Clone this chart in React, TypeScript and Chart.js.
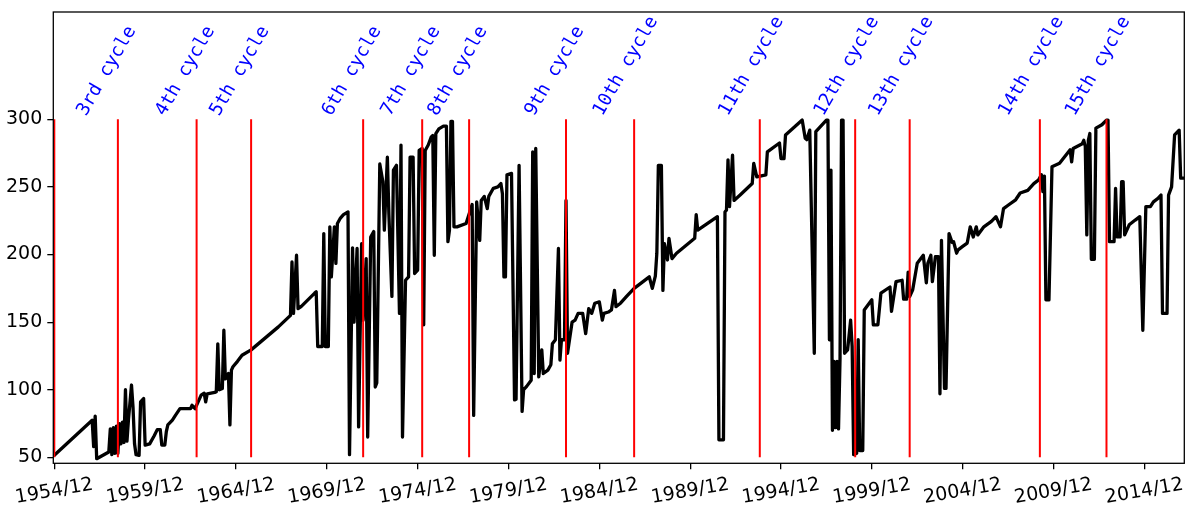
import React, { useEffect, useRef } from "react";
import { Chart, registerables } from "chart.js";

Chart.register(...registerables);

// Month index counted from 1954/12 (index 0) and the value read at that month
const months = [
  0, 25, 26, 27, 28, 36, 37, 38, 39, 40,
  41, 42, 43, 44, 45, 46, 47, 48, 49, 51,
  52, 53, 54, 56, 57, 59, 60, 63, 66, 68,
  70, 71, 73, 74, 75, 78, 80, 83, 90, 91,
  93, 97, 99, 100, 101, 106, 107, 108, 109, 111,
  112, 113, 115, 116, 117, 118,
  121, 124, 130, 148, 156, 157, 158, 160, 161, 163,
  172, 173,
  174, 177, 178, 179, 181, 182, 183, 185, 186, 187,
  189, 191, 194, 195, 197, 198, 200, 201, 203, 204,
  206, 207, 209, 211, 212, 213, 215, 217, 218, 220,
  221, 223, 224, 226, 228, 229, 230, 232, 234, 235,
  237, 238, 240, 241, 243, 244, 245, 247, 249, 250,
  251, 252, 254, 257, 259, 260, 261, 262, 263, 264,
  266, 272, 274, 276, 277, 279, 281, 282, 284, 286,
  287, 290, 293, 295, 296, 297, 298, 299, 302, 304,
  305, 307, 309, 310, 312, 315, 316, 317, 318, 320,
  322, 323, 326, 328, 329, 331, 333, 334, 335, 337,
  338, 339, 342, 344, 346, 349, 351, 353, 355, 357,
  360, 362, 363, 366, 368, 370, 371, 374, 378, 383,
  393, 395, 397, 398, 399, 401, 402, 403, 405, 406,
  408, 411, 423, 424, 425, 438, 439, 442, 443, 444,
  445, 446, 448, 449, 453, 461, 462, 464, 470, 471,
  479, 480, 482, 483, 494, 496, 497, 499, 502, 503,
  510, 511, 512, 513, 514, 515, 516, 517, 518, 519,
  520, 521, 522, 524, 526, 527, 528, 530, 531, 532,
  534, 535, 540, 541, 544, 546, 552, 553, 556, 560,
  561, 563, 564, 565, 567, 570, 574, 576, 577, 579,
  580, 582, 584, 585, 586, 588, 589, 591, 593, 594,
  596, 597, 600, 603, 605, 607, 609, 610, 614, 619,
  622, 625, 627, 630, 635, 638, 643, 647, 650, 652,
  653, 654, 655, 657, 659, 664, 671, 672, 673, 679,
  680, 681, 682, 683, 684, 685, 687, 688, 692, 695,
  696, 697, 700, 701, 702, 704, 705, 706, 707, 710,
  714, 717, 719, 721, 724, 726, 729, 731, 732, 735,
  736, 738, 740, 743, 744, 747,
];

const values = [
  51.5, 77.5, 58, 80.5, 49, 54, 71, 52, 72, 53,
  73, 53, 75, 60, 76, 61, 100, 62, 78, 103.5,
  87, 60, 52, 51.5, 91, 93.5, 59, 60, 66, 70.5,
  70.5, 59, 59, 69, 74, 77.5, 81, 86, 86, 88.5,
  86, 96, 97.5, 91, 97, 98, 98.5, 134, 100, 101,
  144, 108, 112, 74, 114.5, 117,
  121, 125.5, 129.5, 146.5, 155, 194.5, 156.5, 199.5, 160, 161.5,
  171.5, 172.5,
  132, 132, 215.5, 132, 132, 220.5, 183.5, 220.5, 193.5, 223,
  227, 229.5, 231.5, 52, 205, 150, 204.5, 72.5, 208, 151.5,
  197, 65, 213, 217, 102, 105, 267, 254, 218, 272,
  230, 169, 262.5, 266, 156.5, 281, 65, 181, 183.5, 272,
  272, 186, 188.5, 277, 278.5, 148, 277, 281, 287, 288,
  199.5, 289.5, 293, 295, 295, 209.5, 218, 298.5, 298.5, 220.5,
  220.5, 223, 230, 237, 81, 239, 210.5, 240, 243, 234,
  243, 249, 250, 252.5, 245, 183.5, 183.5, 259, 260, 92.5,
  93, 266, 84, 100, 102.5, 107, 276, 112, 278.5, 109.5,
  129.5, 112, 114.5, 118.5, 134, 137, 204.5, 122, 137, 137,
  240, 127, 150, 151.5, 156.5, 156.5, 141.5, 160, 156.5, 164,
  165, 151.5, 156.5, 157.5, 159, 173.5, 161.5, 164, 169, 175,
  183.5, 175, 184, 201, 266, 266, 173.5, 208, 196, 212,
  197, 201, 212, 229.5, 218, 228, 63, 63, 231.5, 233,
  270, 235.5, 273.5, 240, 244, 252.5, 267.5, 257.5, 259, 276,
  282.5, 271, 271, 288.5, 299.5, 286, 285, 292, 127, 291,
  299.5, 299.5, 137, 262.5, 70, 121, 72, 121, 71, 123,
  299.5, 299.5, 127, 129.5, 151.5, 132, 52, 53, 137, 55,
  55, 159, 166.5, 148, 148, 171.5, 176, 158, 180, 181,
  167, 167, 187, 169, 174, 193.5, 199.5, 179, 193.5, 199.5,
  180, 198.5, 198.5, 97, 210.5, 101, 101, 215.5, 209, 209.5,
  201, 203.5, 206, 208.5, 220.5, 213, 220.5, 214.5, 220.5, 224.5,
  228, 220.5, 234, 236.5, 240.5, 245.5, 247.5, 252.5, 255, 259,
  246.5, 258, 166.5, 166.5, 265, 267.5, 277.5, 268.5, 278.5, 282,
  284.5, 280, 214.5, 284.5, 289.5, 196.5, 196.5, 293.5, 296, 299.5,
  299.5, 209.5, 209.5, 249, 213, 213, 254, 254, 214.5, 222,
  225.5, 228, 144, 235.5, 235.5, 239, 241.5, 244, 156.5, 156.5,
  244, 250, 288.5, 292, 256.5, 256.5,
];

// Cycle boundary months (red lines)
const cycleStarts = [0, 42, 94, 130, 204, 243, 274, 338, 383, 466, 529, 565, 651, 695];
const cycleLabels = [
  "3rd cycle", "4th cycle", "5th cycle", "6th cycle", "7th cycle", "8th cycle",
  "9th cycle", "10th cycle", "11th cycle", "12th cycle", "13th cycle",
  "14th cycle", "15th cycle",
];

const xTickMonths = [0, 60, 120, 180, 240, 300, 360, 420, 480, 540, 600, 660, 720];
const xTickLabels = [
  "1954/12", "1959/12", "1964/12", "1969/12", "1974/12", "1979/12", "1984/12",
  "1989/12", "1994/12", "1999/12", "2004/12", "2009/12", "2014/12",
];
const yTickValues = [50, 100, 150, 200, 250, 300];
const redLineLow = 50;
const redLineHigh = 300;

export default function App() {
  const canvasRef = useRef<HTMLCanvasElement | null>(null);

  useEffect(() => {
    const canvas = canvasRef.current;
    if (!canvas) return;
    Chart.defaults.font.family = '"DejaVu Sans"';

    const series = months.map((m, i) => ({ x: m, y: values[i] }));
    const redSets = cycleStarts.map((m) => ({
      data: [
        { x: m, y: redLineLow },
        { x: m, y: redLineHigh },
      ],
      borderColor: "#ff0000",
      borderWidth: 2,
      pointRadius: 0,
      fill: false,
      order: 0,
    }));

    const decor = {
      id: "decor",
      afterDraw(chart: any) {
        const { ctx, chartArea: a, scales } = chart;
        const xs = scales.x;
        const ys = scales.y;
        ctx.save();
        ctx.strokeStyle = "#000";
        ctx.lineWidth = 1.3;
        ctx.strokeRect(a.left, a.top, a.right - a.left, a.bottom - a.top);

        ctx.fillStyle = "#0000ff";
        ctx.font = '18.5px "DejaVu Sans Mono"';
        ctx.textAlign = "left";
        ctx.textBaseline = "alphabetic";
        cycleLabels.forEach((lab, i) => {
          const px = xs.getPixelForValue(cycleStarts[i + 1]) - 32;
          const py = ys.getPixelForValue(redLineHigh) - 2.5;
          ctx.save();
          ctx.translate(px, py);
          ctx.rotate((-60 * Math.PI) / 180);
          ctx.fillText(lab, 0, 0);
          ctx.restore();
        });

        ctx.fillStyle = "#000";
        ctx.font = '19px "DejaVu Sans"';
        ctx.textAlign = "center";
        ctx.textBaseline = "middle";
        xTickMonths.forEach((m, i) => {
          const px = xs.getPixelForValue(m);
          ctx.save();
          ctx.translate(px, a.bottom + 28);
          ctx.rotate((-10 * Math.PI) / 180);
          ctx.fillText(xTickLabels[i], 0, 0);
          ctx.restore();
        });
        ctx.restore();
      },
    };

    const chart = new Chart(canvas, {
      type: "line",
      data: {
        datasets: [
          {
            data: series,
            borderColor: "#000000",
            borderWidth: 3.3,
            pointRadius: 0,
            fill: false,
            tension: 0,
            borderJoinStyle: "round",
            borderCapStyle: "round",
            order: 1,
          },
          ...redSets,
        ] as any,
      },
      options: {
        animation: false,
        responsive: false,
        events: [],
        layout: { padding: { top: 12, right: 1.7, left: 0, bottom: 0 } },
        plugins: { legend: { display: false }, tooltip: { enabled: false } },
        scales: {
          x: {
            type: "linear",
            min: -0.66,
            max: 746.4,
            afterBuildTicks: (s: any) => {
              s.ticks = xTickMonths.map((v) => ({ value: v }));
            },
            ticks: { display: false },
            grid: {
              drawOnChartArea: false,
              drawTicks: true,
              tickLength: 6,
              color: "#000",
              lineWidth: 1.3,
            },
            border: { display: false },
            afterFit: (s: any) => {
              s.height = 42.7;
              s.paddingLeft = 0;
              s.paddingRight = 0;
              s.paddingTop = 0;
              s.paddingBottom = 0;
            },
          },
          y: {
            type: "linear",
            min: 45.6,
            max: 379.4,
            afterBuildTicks: (s: any) => {
              s.ticks = yTickValues.map((v) => ({ value: v }));
            },
            ticks: {
              color: "#000",
              padding: 5,
              font: { size: 19, family: '"DejaVu Sans"' },
            },
            grid: {
              drawOnChartArea: false,
              drawTicks: true,
              tickLength: 6,
              color: "#000",
              lineWidth: 1.3,
            },
            border: { display: false },
            afterFit: (s: any) => {
              s.width = 53.3;
              s.paddingLeft = 0;
              s.paddingRight = 0;
              s.paddingTop = 0;
              s.paddingBottom = 0;
            },
          },
        },
      } as any,
      plugins: [decor],
    });

    return () => chart.destroy();
  }, []);

  return (
    <div style={{ position: "absolute", left: 0, top: 0, width: 1186, height: 506, background: "#fff" }}>
      <canvas ref={canvasRef} width={1186} height={506} style={{ display: "block" }} />
    </div>
  );
}
